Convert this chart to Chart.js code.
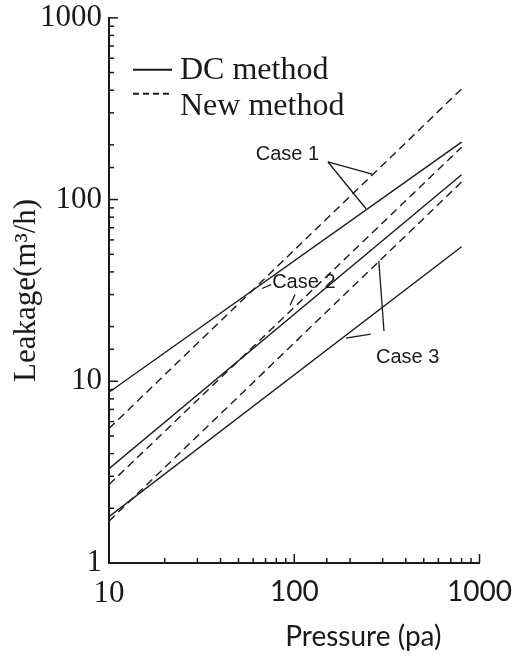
<!DOCTYPE html>
<html>
<head>
<meta charset="utf-8">
<script src="https://cdn.jsdelivr.net/npm/chart.js@4/dist/chart.umd.min.js"></script>
<style>body{margin:0;background:#fff}</style>
</head>
<body>
<canvas id="chart" width="524" height="656"></canvas>
<script>
// pressure (pa) at the two ends of each line
const pressure = [10, 800];
// leakage (m3/h), at pressure 10 and 800
const case1DC = [8.7, 207];
const case1New = [5.5, 406];
const case2DC = [3.3, 137];
const case2New = [2.7, 194];
const case3DC = [1.8, 55];
const case3New = [1.7, 125];
// labelled ticks
const xTicks = [10, 100, 1000];
const yTicks = [1, 10, 100, 1000];
// case labels and their pointer lines, in data units (pressure, leakage)
const caseLabels = [
    { text: 'Case 1', x: 62, y: 176 },
    { text: 'Case 2', x: 76, y: 35 },
    { text: 'Case 3', x: 276, y: 13.5 }
];
const pointers = [
    [152, 161, 263, 138],
    [152, 161, 244, 89],
    [75, 34, 67, 32.4],
    [101, 30, 95, 26.2],
    [286, 46, 305, 18.9],
    [259, 18.2, 190, 17.3]
];

const ink = '#1a1a1a';
const serif = '"Liberation Serif", "DejaVu Serif", serif';
const sans = 'Lato, "Open Sans", sans-serif';

function serie(label, ys, dashed) {
    return {
        label: label,
        data: pressure.map((p, i) => ({ x: p, y: ys[i] })),
        showLine: true,
        borderColor: ink,
        borderWidth: 1.4,
        borderDash: dashed ? [8, 5] : [],
        pointRadius: 0,
        fill: false
    };
}

function isLabelled(list, v) {
    const r = Math.round(v);
    return Math.abs(v - r) < 1e-6 && list.includes(r);
}

function seg(ctx, x1, y1, x2, y2) {
    ctx.beginPath();
    ctx.moveTo(x1, y1);
    ctx.lineTo(x2, y2);
    ctx.stroke();
}

// inner ticks, legend, case labels and x title
const decor = {
    id: 'decor',
    afterDraw(chart) {
        const { ctx, chartArea: a, scales: { x, y } } = chart;
        ctx.save();
        ctx.strokeStyle = ink;
        ctx.fillStyle = ink;
        ctx.lineWidth = 1.5;

        y.ticks.forEach(t => {
            const p = y.getPixelForValue(t.value);
            seg(ctx, a.left, p, a.left + (isLabelled(yTicks, t.value) ? 9 : 5), p);
        });
        x.ticks.forEach(t => {
            const p = x.getPixelForValue(t.value);
            seg(ctx, p, a.bottom, p, a.bottom - (isLabelled(xTicks, t.value) ? 9 : 5));
        });

        // legend
        ctx.lineWidth = 2;
        seg(ctx, a.left + 24, a.top + 52, a.left + 63, a.top + 52);
        ctx.setLineDash([6, 4]);
        seg(ctx, a.left + 24, a.top + 76, a.left + 63, a.top + 76);
        ctx.setLineDash([]);
        ctx.font = '32px ' + serif;
        ctx.textAlign = 'left';
        ctx.textBaseline = 'alphabetic';
        ctx.fillText('DC method', a.left + 71, a.top + 61);
        ctx.fillText('New method', a.left + 71, a.top + 97);

        // case labels
        ctx.lineWidth = 1.3;
        pointers.forEach(p => {
            seg(ctx, x.getPixelForValue(p[0]), y.getPixelForValue(p[1]),
                x.getPixelForValue(p[2]), y.getPixelForValue(p[3]));
        });
        ctx.font = '20px "Liberation Sans", Arial, sans-serif';
        ctx.textBaseline = 'middle';
        caseLabels.forEach(c => {
            ctx.fillText(c.text, x.getPixelForValue(c.x), y.getPixelForValue(c.y));
        });

        // x axis title
        ctx.font = '28px ' + sans;
        ctx.textAlign = 'right';
        ctx.textBaseline = 'alphabetic';
        ctx.fillText('Pressure (pa)', a.right - 38, 646);
        ctx.restore();
    }
};

new Chart(document.getElementById('chart').getContext('2d'), {
    type: 'scatter',
    data: {
        datasets: [
            serie('Case 1 DC method', case1DC, false),
            serie('Case 1 New method', case1New, true),
            serie('Case 2 DC method', case2DC, false),
            serie('Case 2 New method', case2New, true),
            serie('Case 3 DC method', case3DC, false),
            serie('Case 3 New method', case3New, true)
        ]
    },
    options: {
        responsive: false,
        animation: false,
        layout: { padding: { top: 11, right: 43, bottom: 0, left: 0 } },
        plugins: {
            legend: { display: false },
            tooltip: { enabled: false }
        },
        scales: {
            x: {
                type: 'logarithmic',
                min: 10,
                max: 1000,
                afterFit: s => { s.height = 93; },
                grid: { drawOnChartArea: false, drawTicks: false },
                border: { display: true, color: ink, width: 2 },
                ticks: {
                    autoSkip: false,
                    maxRotation: 0,
                    padding: 12,
                    color: ink,
                    font: c => (c.tick && c.tick.value === 10)
                        ? { family: serif, size: 31 }
                        : { family: sans, size: 28 },
                    callback: v => isLabelled(xTicks, v) ? String(Math.round(v)) : ''
                }
            },
            y: {
                type: 'logarithmic',
                min: 1,
                max: 1000,
                afterFit: s => { s.width = 109; },
                grid: { drawOnChartArea: false, drawTicks: false },
                border: { display: true, color: ink, width: 2 },
                title: {
                    display: true,
                    text: 'Leakage(m³/h)',
                    color: ink,
                    font: { family: serif, size: 31 },
                    padding: { top: 8, bottom: 0 }
                },
                ticks: {
                    autoSkip: false,
                    padding: 7,
                    color: ink,
                    font: { family: serif, size: 31, lineHeight: 0.7 },
                    callback: v => isLabelled(yTicks, v) ? String(Math.round(v)) : ''
                }
            }
        }
    },
    plugins: [decor]
});
</script>
</body>
</html>
